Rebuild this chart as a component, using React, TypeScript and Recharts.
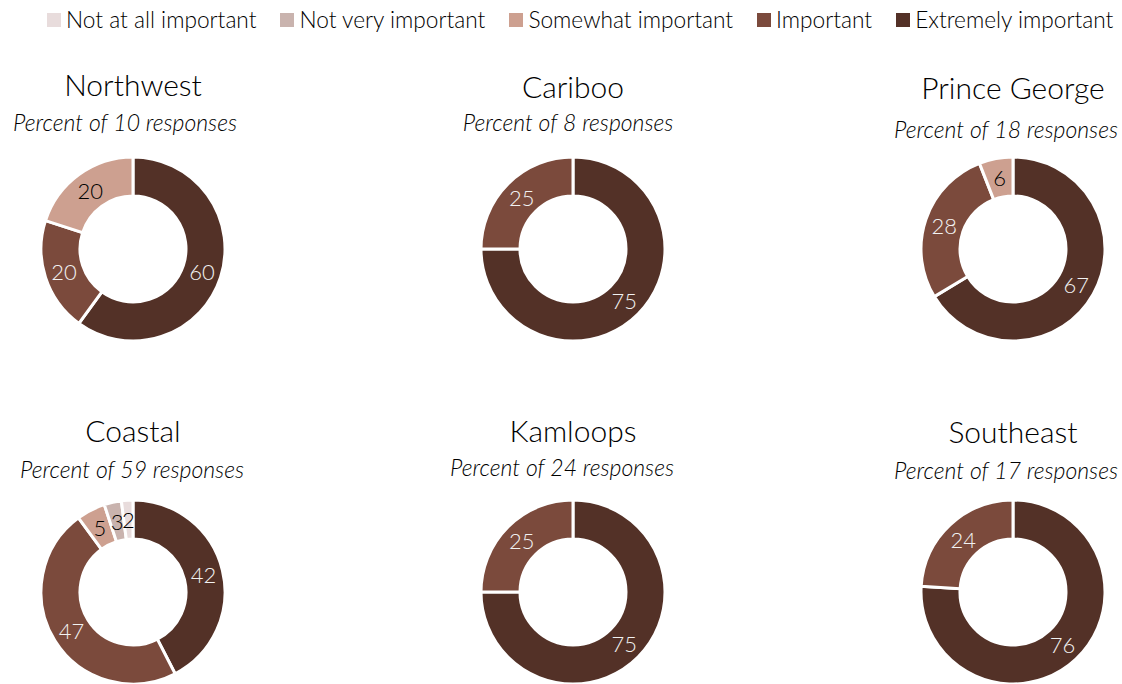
import { Cell, Pie, PieChart } from "recharts";

// survey results, percent of responses per region
const regions = ["Northwest", "Cariboo", "Prince George", "Coastal", "Kamloops", "Southeast"];
const responses = [10, 8, 18, 59, 24, 17];

const levels = [
  "Extremely important",
  "Important",
  "Somewhat important",
  "Not very important",
  "Not at all important",
];
const extremely = [60, 75, 67, 42, 75, 76];
const important = [20, 25, 28, 47, 25, 24];
const somewhat = [20, 0, 6, 5, 0, 0];
const notVery = [0, 0, 0, 3, 0, 0];
const notAtAll = [0, 0, 0, 2, 0, 0];

const colors: Record<string, string> = {
  "Extremely important": "#533127",
  Important: "#7B4A3C",
  "Somewhat important": "#CDA090",
  "Not very important": "#C9B3AE",
  "Not at all important": "#E8DCDC",
};
const darkLevels = ["Extremely important", "Important"];
const legendOrder = [...levels].reverse();

const FONT = "Lato, 'Open Sans', sans-serif";

// donut centers + heading positions
const layout = [
  { cx: 133, cy: 249, titleY: 84, subY: 122, subDx: -8 },
  { cx: 573, cy: 249, titleY: 86, subY: 122, subDx: -5 },
  { cx: 1013, cy: 249, titleY: 87, subY: 129, subDx: -7 },
  { cx: 133, cy: 592, titleY: 430, subY: 469, subDx: -1 },
  { cx: 573, cy: 592, titleY: 430, subY: 467, subDx: -11 },
  { cx: 1013, cy: 592, titleY: 431, subY: 470, subDx: -7 },
];

const RAD = Math.PI / 180;

function regionData(i: number) {
  const vals = [extremely[i], important[i], somewhat[i], notVery[i], notAtAll[i]];
  return levels
    .map((name, k) => ({ name, value: vals[k] }))
    .filter((d) => d.value > 0);
}

function renderLabel(props: any) {
  const { cx, cy, midAngle, innerRadius, outerRadius, value, name } = props;
  const r = (innerRadius + outerRadius) / 2;
  const x = cx + r * Math.cos(-midAngle * RAD);
  const y = cy + r * Math.sin(-midAngle * RAD);
  return (
    <text
      x={x}
      y={y}
      textAnchor="middle"
      dominantBaseline="central"
      fontFamily={FONT}
      fontWeight={300}
      fontSize={22}
      fill={darkLevels.includes(name) ? "#F2F2F2" : "#000"}
    >
      {value}
    </text>
  );
}

export default function App() {
  return (
    <div
      style={{
        position: "absolute",
        left: 0,
        top: 0,
        width: 1122,
        height: 684,
        background: "#fff",
        fontFamily: FONT,
        overflow: "hidden",
      }}
    >
      <div
        style={{
          position: "absolute",
          top: 6,
          left: 47,
          display: "flex",
          gap: 24,
          fontSize: 22.7,
          fontWeight: 300,
          color: "#000",
          whiteSpace: "nowrap",
        }}
      >
        {legendOrder.map((l) => (
          <div key={l} style={{ display: "flex", alignItems: "center", gap: 5 }}>
            <span style={{ width: 14, height: 14, background: colors[l], display: "inline-block" }} />
            <span>{l}</span>
          </div>
        ))}
      </div>

      {regions.map((r, i) => (
        <div key={r}>
          <div
            style={{
              position: "absolute",
              left: layout[i].cx - 150,
              width: 300,
              top: layout[i].titleY - 19,
              textAlign: "center",
              fontSize: 30,
              fontWeight: 300,
              lineHeight: "38px",
              color: "#000",
            }}
          >
            {r}
          </div>
          <div
            style={{
              position: "absolute",
              left: layout[i].cx - 150 + layout[i].subDx,
              width: 300,
              top: layout[i].subY - 14,
              textAlign: "center",
              fontSize: 23,
              fontWeight: 300,
              fontStyle: "italic",
              lineHeight: "28px",
              color: "#000",
            }}
          >
            Percent of {responses[i]} responses
          </div>
        </div>
      ))}

      <PieChart
        width={1122}
        height={684}
        margin={{ top: 0, right: 0, bottom: 0, left: 0 }}
        style={{ position: "absolute", left: 0, top: 0 }}
      >
        {regions.map((r, i) => (
          <Pie
            key={r}
            data={regionData(i)}
            dataKey="value"
            nameKey="name"
            cx={layout[i].cx}
            cy={layout[i].cy}
            innerRadius={53}
            outerRadius={92}
            startAngle={90}
            endAngle={-270}
            stroke="#fff"
            strokeWidth={3}
            label={renderLabel}
            labelLine={false}
            isAnimationActive={false}
          >
            {regionData(i).map((d) => (
              <Cell key={d.name} fill={colors[d.name]} />
            ))}
          </Pie>
        ))}
      </PieChart>
    </div>
  );
}
